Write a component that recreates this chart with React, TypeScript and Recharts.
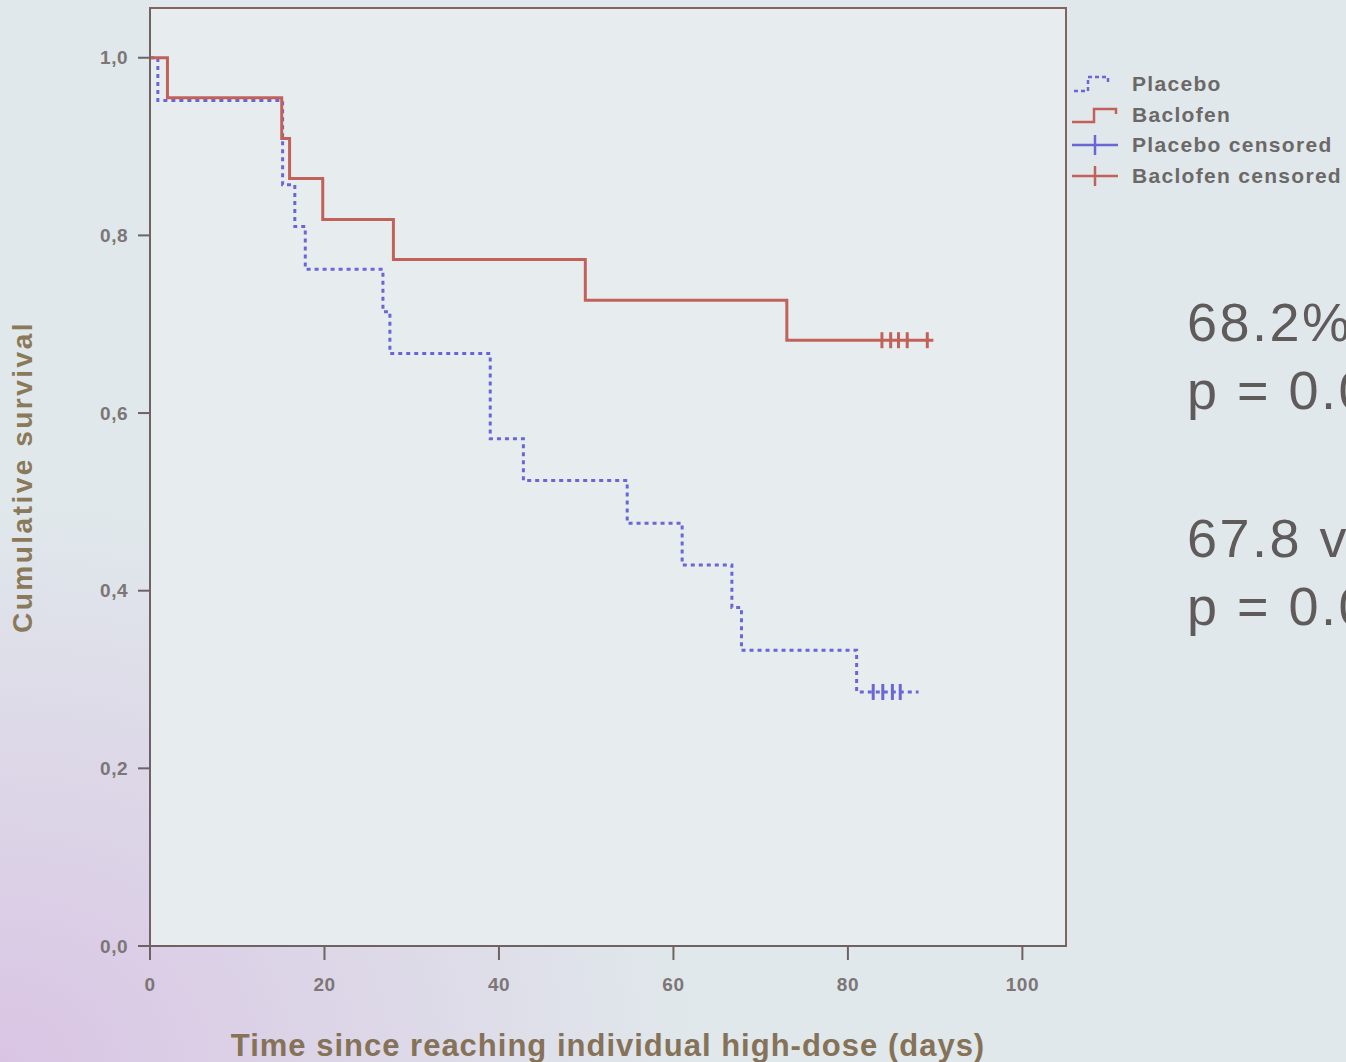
import React from "react";
import {
  ComposedChart,
  Line,
  Scatter,
  XAxis,
  YAxis,
  ReferenceArea,
  Label,
} from "recharts";

// Kaplan-Meier steps (time in days, cumulative survival)
const placeboTimes = [0, 0.9, 15.2, 16.6, 17.8, 26.7, 27.5, 39, 42.8, 54.7, 61, 66.7, 67.8, 81, 88.1];
const placeboSurvival = [1, 0.952, 0.857, 0.81, 0.762, 0.714, 0.667, 0.571, 0.524, 0.476, 0.429, 0.381, 0.333, 0.286, 0.286];
const baclofenTimes = [0, 2, 15.1, 16, 19.8, 27.9, 49.9, 73, 89.8];
const baclofenSurvival = [1, 0.955, 0.909, 0.864, 0.818, 0.773, 0.727, 0.682, 0.682];

const placeboCensored = [82.9, 84.0, 85.1, 86.0];
const baclofenCensored = [83.9, 84.9, 85.8, 86.8, 89.1];

const xTicks = [0, 20, 40, 60, 80, 100];
const yTicks = [0, 0.2, 0.4, 0.6, 0.8, 1.0];

const legendItems = ["Placebo", "Baclofen", "Placebo censored", "Baclofen censored"];
const sideNotes = ["68.2%", "p = 0.0", "67.8 v", "p = 0.0"];

const BLUE = "#6b66d6";
const RED = "#c2615a";
const FRAME = "#84625e";
const FONT = "'Liberation Sans', Arial, sans-serif";

const placeboData = placeboTimes.map((t, i) => ({ t, s: placeboSurvival[i] }));
const baclofenData = baclofenTimes.map((t, i) => ({ t, s: baclofenSurvival[i] }));
const placeboCens = placeboCensored.map((t) => ({ t, s: placeboSurvival[placeboSurvival.length - 1] }));
const baclofenCens = baclofenCensored.map((t) => ({ t, s: baclofenSurvival[baclofenSurvival.length - 1] }));

const censorMark = (color: string, half: number) => (props: any) => (
  <line
    x1={props.cx}
    x2={props.cx}
    y1={props.cy - half}
    y2={props.cy + half}
    stroke={color}
    strokeWidth={3}
  />
);

const LegendBox = () => (
  <div
    style={{
      position: "absolute",
      left: 1068,
      top: 69,
      fontFamily: FONT,
      fontSize: 21,
      fontWeight: 700,
      letterSpacing: 1.3,
      color: "#6c6868",
    }}
  >
    {legendItems.map((name, i) => (
      <div key={name} style={{ display: "flex", alignItems: "center", height: 30.5 }}>
        <svg width={64} height={30}>
          {i === 0 && (
            <polyline points="6,22 20,22 20,8 40,8 40,14" fill="none" stroke={BLUE} strokeWidth={2.5} strokeDasharray="4 3" />
          )}
          {i === 1 && (
            <polyline points="4,22 26,22 26,9 48,9 48,14" fill="none" stroke={RED} strokeWidth={2.5} />
          )}
          {i >= 2 && (
            <g stroke={i === 2 ? BLUE : RED} strokeWidth={2.5}>
              <line x1={4} x2={50} y1={15} y2={15} />
              <line x1={27} x2={27} y1={5} y2={25} />
            </g>
          )}
        </svg>
        <span style={{ whiteSpace: "nowrap" }}>{name}</span>
      </div>
    ))}
  </div>
);

const App: React.FC = () => {
  const tickStyle = {
    fill: "#7c7676",
    fontSize: 19,
    fontWeight: 700,
    letterSpacing: 0.5,
    fontFamily: FONT,
  };

  return (
    <div
      style={{
        position: "absolute",
        left: 0,
        top: 0,
        width: 1346,
        height: 1062,
        overflow: "hidden",
        background:
          "radial-gradient(ellipse 700px 560px at 0% 100%, #d9c4e4 0%, rgba(217,196,228,0) 100%), #e0e8eb",
      }}
    >
      <ComposedChart
        width={1346}
        height={1062}
        margin={{ top: 8, right: 280, bottom: 0, left: 0 }}
      >
        <XAxis
          dataKey="t"
          type="number"
          domain={[0, 105]}
          ticks={xTicks}
          allowDataOverflow
          height={116}
          tickSize={14}
          tickMargin={18}
          tick={tickStyle}
          stroke="#6f6262"
          strokeWidth={2}
        >
          <Label
            value="Time since reaching individual high-dose (days)"
            position="insideBottom"
            offset={6}
            style={{
              fill: "#857258",
              fontSize: 31,
              fontWeight: 700,
              letterSpacing: 1,
              fontFamily: FONT,
            }}
          />
        </XAxis>
        <YAxis
          dataKey="s"
          type="number"
          domain={[0, 1.056]}
          ticks={yTicks}
          allowDataOverflow
          width={150}
          tickSize={12}
          tickMargin={10}
          tick={tickStyle}
          tickFormatter={(v: number) => v.toFixed(1).replace(".", ",")}
          stroke="#6f6262"
          strokeWidth={2}
        >
          <Label
            value="Cumulative survival"
            angle={-90}
            position="insideLeft"
            offset={22}
            style={{
              textAnchor: "middle",
              fill: "#8a7a5a",
              fontSize: 28,
              fontWeight: 700,
              letterSpacing: 2.5,
              fontFamily: FONT,
            }}
          />
        </YAxis>
        <ReferenceArea
          x1={0}
          x2={105}
          y1={0}
          y2={1.056}
          fill="#e7edef"
          fillOpacity={1}
          stroke={FRAME}
          strokeWidth={2}
        />
        <Line
          data={placeboData}
          dataKey="s"
          type="stepAfter"
          stroke={BLUE}
          strokeWidth={3}
          strokeDasharray="4 4"
          dot={false}
          isAnimationActive={false}
        />
        <Line
          data={baclofenData}
          dataKey="s"
          type="stepAfter"
          stroke={RED}
          strokeWidth={3}
          dot={false}
          isAnimationActive={false}
        />
        <Scatter
          data={placeboCens}
          dataKey="s"
          shape={censorMark(BLUE, 8)}
          isAnimationActive={false}
        />
        <Scatter
          data={baclofenCens}
          dataKey="s"
          shape={censorMark(RED, 8)}
          isAnimationActive={false}
        />
      </ComposedChart>
      <LegendBox />
      {sideNotes.map((txt, i) => (
        <div
          key={i}
          style={{
            position: "absolute",
            left: 1187,
            top: [292, 360, 508, 576][i],
            fontFamily: FONT,
            fontSize: 54,
            letterSpacing: 2.5,
            lineHeight: "60px",
            color: "#5f5b5b",
            whiteSpace: "nowrap",
          }}
        >
          {txt}
        </div>
      ))}
    </div>
  );
};

export default App;
